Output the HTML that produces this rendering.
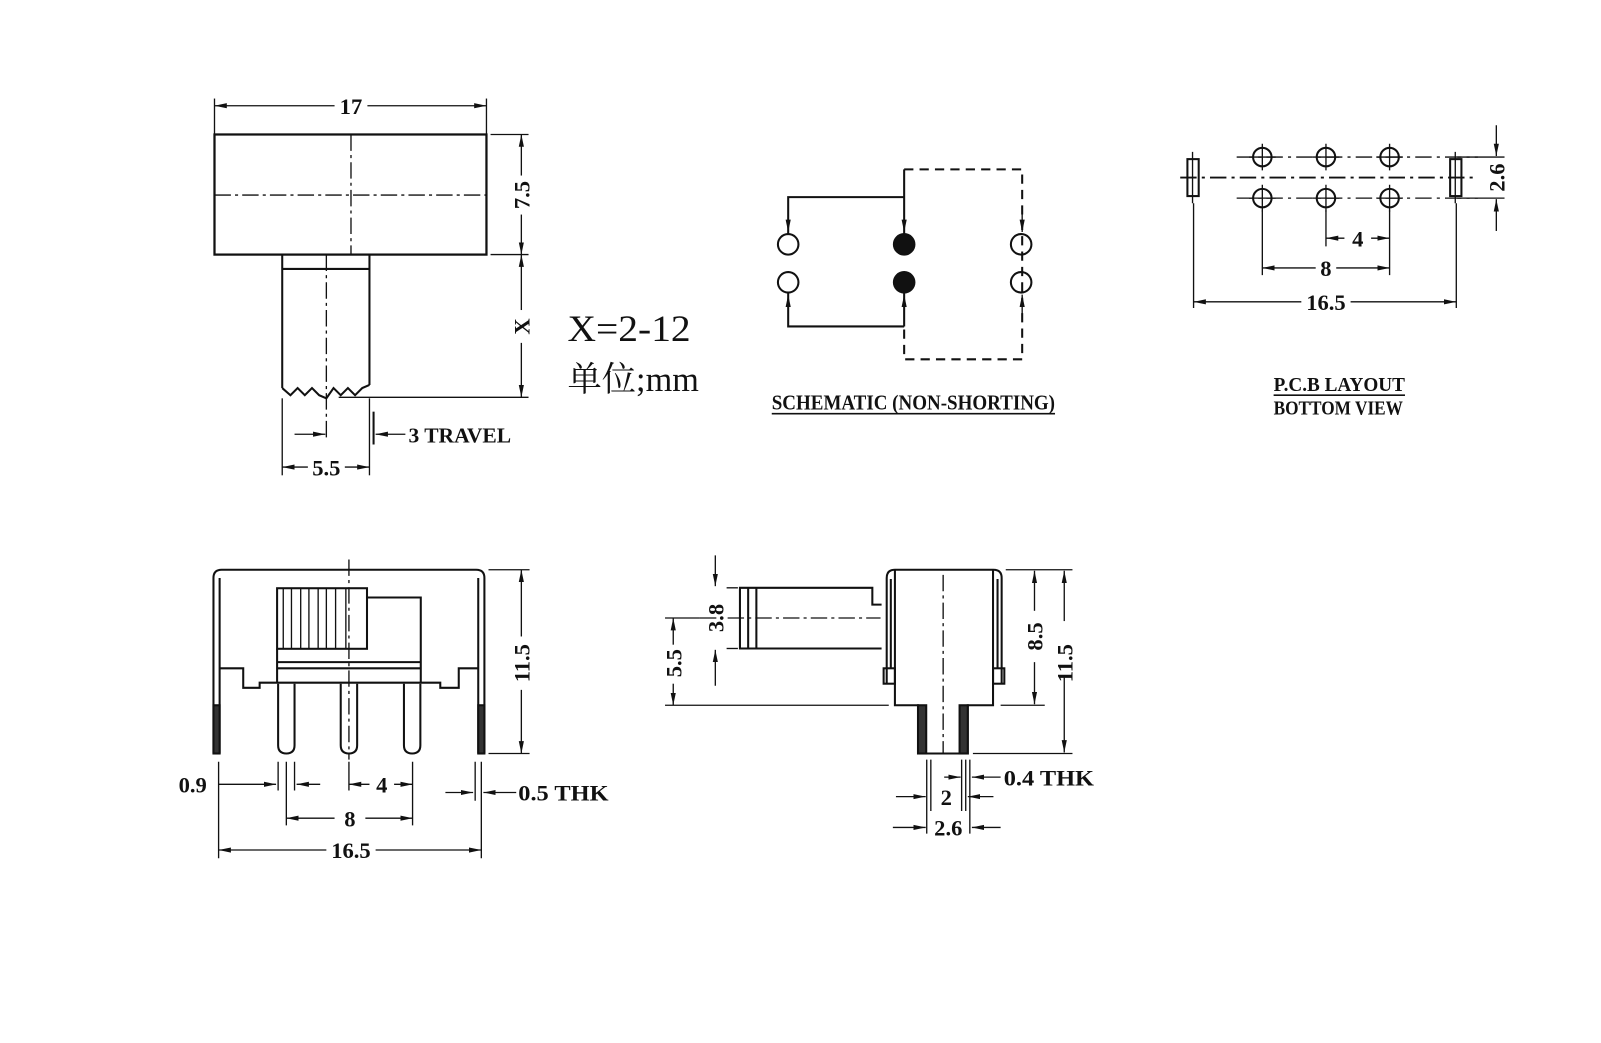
<!DOCTYPE html>
<html><head><meta charset="utf-8"><style>
html,body{margin:0;padding:0;background:#fff;}
svg{display:block}
text{font-family:"Liberation Serif","Noto Serif CJK SC",serif;font-weight:bold;fill:#111}
</style></head><body>
<svg width="1601" height="1043" viewBox="0 0 1560 1016" preserveAspectRatio="none" xmlns="http://www.w3.org/2000/svg">
<defs>
<marker id="a" viewBox="0 0 12 6" refX="12" refY="3" markerWidth="12" markerHeight="6" markerUnits="userSpaceOnUse" orient="auto-start-reverse"><path d="M0,0.5 L12,3 L0,5.5z" fill="#111"/></marker>
</defs>
<g fill="none" stroke="#111" stroke-width="1.3">
<!-- ===== TOP LEFT ===== -->
<line x1="209" y1="96" x2="209" y2="131"/><line x1="474" y1="96" x2="474" y2="131"/>
<line x1="209" y1="103" x2="326" y2="103" marker-start="url(#a)"/><line x1="358" y1="103" x2="474" y2="103" marker-end="url(#a)"/>
<rect x="209" y="131" width="265" height="117" stroke-width="2.2"/>
<line x1="342" y1="131" x2="342" y2="248" stroke-dasharray="16 4 3 4"/>
<line x1="209" y1="190" x2="474" y2="190" stroke-dasharray="16 4 3 4"/>
<line x1="478" y1="131" x2="515" y2="131"/><line x1="478" y1="248" x2="515" y2="248"/><line x1="330" y1="387" x2="515" y2="387"/>
<line x1="508" y1="171" x2="508" y2="131" marker-end="url(#a)"/><line x1="508" y1="209" x2="508" y2="248" marker-end="url(#a)"/>
<line x1="508" y1="302" x2="508" y2="248" marker-end="url(#a)"/><line x1="508" y1="334" x2="508" y2="387" marker-end="url(#a)"/>
<g stroke-width="2"><line x1="275" y1="248" x2="275" y2="378"/><line x1="360" y1="248" x2="360" y2="375"/>
<line x1="275" y1="262" x2="360" y2="262"/>
<polyline points="275,378 283,385 290,378 297,385 304,378 311,385 318,388 325,378 332,385 339,378 346,385 353,378 360,375"/></g>
<line x1="318" y1="248" x2="318" y2="428" stroke-dasharray="16 4 3 4"/>
<line x1="275" y1="388" x2="275" y2="463"/><line x1="360" y1="388" x2="360" y2="463"/>
<line x1="287" y1="423" x2="317" y2="423" marker-end="url(#a)"/>
<line x1="364" y1="401" x2="364" y2="433" stroke-width="2"/>
<line x1="395" y1="423" x2="366" y2="423" marker-end="url(#a)"/>
<line x1="300" y1="455" x2="275" y2="455" marker-end="url(#a)"/><line x1="336" y1="455" x2="360" y2="455" marker-end="url(#a)"/>
<!-- ===== SCHEMATIC ===== -->
<path d="M881,165 H996 V350 H881 V318" stroke-width="2" stroke-dasharray="9 6"/>
<path d="M768,228 V192 H881 M881,165 V228 M768,285 V318 H881 M881,285 V318" stroke-width="2"/>
<line x1="996" y1="205" x2="996" y2="226" marker-end="url(#a)"/>
<line x1="768" y1="205" x2="768" y2="226" marker-end="url(#a)"/>
<line x1="881" y1="205" x2="881" y2="226" marker-end="url(#a)"/>
<line x1="768" y1="310" x2="768" y2="287" marker-end="url(#a)"/>
<line x1="881" y1="310" x2="881" y2="287" marker-end="url(#a)"/>
<line x1="996" y1="310" x2="996" y2="287" marker-end="url(#a)"/>
<g stroke-width="2"><circle cx="768" cy="238" r="10"/><circle cx="768" cy="275" r="10"/>
<circle cx="995" cy="238" r="10"/><circle cx="995" cy="275" r="10"/>
<circle cx="881" cy="238" r="10" fill="#111"/><circle cx="881" cy="275" r="10" fill="#111"/></g>
<line x1="752" y1="403" x2="1028" y2="403" stroke-width="1.6"/>
<!-- ===== PCB ===== -->
<line x1="1150" y1="173" x2="1440" y2="173" stroke-width="1.8" stroke-dasharray="16 5 3 5"/>
<line x1="1205" y1="153" x2="1440" y2="153" stroke-dasharray="16 5 3 5"/>
<line x1="1205" y1="193" x2="1440" y2="193" stroke-dasharray="16 5 3 5"/>
<g stroke-width="2">
<circle cx="1230" cy="153" r="9"/><circle cx="1292" cy="153" r="9"/><circle cx="1354" cy="153" r="9"/>
<circle cx="1230" cy="193" r="9"/><circle cx="1292" cy="193" r="9"/><circle cx="1354" cy="193" r="9"/>
<rect x="1157" y="155" width="11" height="36"/><rect x="1413" y="155" width="11" height="36"/></g>
<path d="M1230,140V166M1292,140V166M1354,140V166M1230,180V206M1292,180V206M1354,180V206M1217,153H1243M1279,153H1305M1341,153H1367M1217,193H1243M1279,193H1305M1341,193H1367M1162,148V198M1418,148V198"/>
<line x1="1420" y1="153" x2="1466" y2="153"/><line x1="1420" y1="193" x2="1466" y2="193"/>
<line x1="1458" y1="122" x2="1458" y2="152" marker-end="url(#a)"/><line x1="1458" y1="225" x2="1458" y2="194" marker-end="url(#a)"/>
<path d="M1163,198V300M1419,198V300M1230,205V268M1292,205V240M1354,205V268"/>
<line x1="1310" y1="232" x2="1292" y2="232" marker-end="url(#a)"/><line x1="1336" y1="232" x2="1354" y2="232" marker-end="url(#a)"/>
<line x1="1282" y1="261" x2="1230" y2="261" marker-end="url(#a)"/><line x1="1302" y1="261" x2="1354" y2="261" marker-end="url(#a)"/>
<line x1="1268" y1="294" x2="1163" y2="294" marker-end="url(#a)"/><line x1="1316" y1="294" x2="1419" y2="294" marker-end="url(#a)"/>
<line x1="1241" y1="385" x2="1369" y2="385" stroke-width="1.6"/>
<!-- ===== BOTTOM LEFT ===== -->
<g stroke-width="2">
<path d="M208,734 V563 Q208,555 216,555 H464 Q472,555 472,563 V734"/>
<path d="M214,734 V563 M466,563 V734"/>
<path d="M214,651 H237 V670 H253 V665 H429 V670 H447 V651 H466"/>
<rect x="270" y="573" width="87.6" height="59"/>
<path d="M357.6,582 H410 V665 M270,632 V665 M270,645 H410 M270,651 H410"/>
<rect x="208" y="687" width="6" height="47" fill="#333"/><rect x="466" y="687" width="6" height="47" fill="#333"/>
<path d="M271,666 V726 Q271,734 279,734 Q287,734 287,726 V666"/>
<path d="M332,666 V726 Q332,734 340,734 Q348,734 348,726 V666"/>
<path d="M393.6,666 V726 Q393.6,734 401.6,734 Q409.6,734 409.6,726 V666"/>
</g>
<path d="M276,573V632M284,573V632M293,573V632M301,573V632M310,573V632M318,573V632M327,573V632M337,573V632"/>
<line x1="340" y1="545" x2="340" y2="740" stroke-dasharray="16 4 3 4"/>
<line x1="476" y1="555" x2="516" y2="555"/><line x1="476" y1="734" x2="516" y2="734"/>
<line x1="508" y1="620" x2="508" y2="555" marker-end="url(#a)"/><line x1="508" y1="672" x2="508" y2="734" marker-end="url(#a)"/>
<path d="M213,742V836M469,742V836M463,742V780M271,742V770M287,742V770M279,742V804M340,742V770M402,742V804"/>
<line x1="213" y1="764" x2="269" y2="764" marker-end="url(#a)"/><line x1="312" y1="764" x2="289" y2="764" marker-end="url(#a)"/>
<line x1="360" y1="764" x2="340" y2="764" marker-end="url(#a)"/><line x1="384" y1="764" x2="402" y2="764" marker-end="url(#a)"/>
<line x1="326" y1="797" x2="279" y2="797" marker-end="url(#a)"/><line x1="356" y1="797" x2="402" y2="797" marker-end="url(#a)"/>
<line x1="318" y1="828" x2="213" y2="828" marker-end="url(#a)"/><line x1="366" y1="828" x2="469" y2="828" marker-end="url(#a)"/>
<line x1="434" y1="772" x2="461" y2="772" marker-end="url(#a)"/><line x1="503" y1="772" x2="471" y2="772" marker-end="url(#a)"/>
<!-- ===== SIDE VIEW ===== -->
<g stroke-width="2">
<path d="M864,666 V563 Q864,555 872,555 H968 Q976,555 976,563 V666"/>
<path d="M872,555 V687 H894.5 V734 H943 V687 H967.6 V555"/>
<path d="M868,564 V651 M972,564 V651"/>
<rect x="861" y="651" width="11" height="15"/><rect x="967.6" y="651" width="11" height="15"/>
<path d="M859,631.7 H721 V572.6 H850 V589 H859"/>
<path d="M729,572.6 V631.7 M737,572.6 V631.7"/>
<rect x="894.5" y="687" width="8" height="47" fill="#333"/><rect x="935" y="687" width="8" height="47" fill="#333"/>
</g>
<line x1="919" y1="560" x2="919" y2="734" stroke-dasharray="16 4 3 4"/>
<line x1="682" y1="602" x2="858" y2="602" stroke-dasharray="16 4 3 4"/>
<line x1="708" y1="572.6" x2="719" y2="572.6"/><line x1="708" y1="631.7" x2="719" y2="631.7"/>
<line x1="697" y1="541" x2="697" y2="571" marker-end="url(#a)"/><line x1="697" y1="668" x2="697" y2="633" marker-end="url(#a)"/>
<line x1="648" y1="602" x2="682" y2="602"/>
<line x1="648" y1="687" x2="866" y2="687"/>
<line x1="656" y1="628" x2="656" y2="602" marker-end="url(#a)"/><line x1="656" y1="666" x2="656" y2="687" marker-end="url(#a)"/>
<line x1="980" y1="555" x2="1045" y2="555"/><line x1="975" y1="687" x2="1018" y2="687"/><line x1="948" y1="734" x2="1045" y2="734"/>
<line x1="1008" y1="595" x2="1008" y2="556" marker-end="url(#a)"/><line x1="1008" y1="645" x2="1008" y2="686" marker-end="url(#a)"/>
<line x1="1037" y1="605" x2="1037" y2="556" marker-end="url(#a)"/><line x1="1037" y1="660" x2="1037" y2="733" marker-end="url(#a)"/>
<path d="M903,740V812M907,740V790M937,740V790M941,740V790M945,740V812"/>
<line x1="920" y1="757" x2="936" y2="757" marker-end="url(#a)"/><line x1="975" y1="757" x2="947" y2="757" marker-end="url(#a)"/>
<line x1="873" y1="776" x2="902" y2="776" marker-end="url(#a)"/><line x1="968" y1="776" x2="943" y2="776" marker-end="url(#a)"/>
<line x1="870" y1="806" x2="902" y2="806" marker-end="url(#a)"/><line x1="975" y1="806" x2="947" y2="806" marker-end="url(#a)"/>
</g>
<!-- ===== TEXT ===== -->
<g font-size="22">
<text x="342" y="111" text-anchor="middle">17</text>
<text transform="translate(516,190) rotate(-90)" text-anchor="middle">7.5</text>
<text transform="translate(516,318) rotate(-90)" text-anchor="middle">X</text>
<text x="398" y="431" font-size="21" textLength="100" lengthAdjust="spacingAndGlyphs">3 TRAVEL</text>
<text x="318" y="463" text-anchor="middle">5.5</text>
<text x="1323" y="240" text-anchor="middle">4</text>
<text x="1292" y="269" text-anchor="middle">8</text>
<text x="1292" y="302" text-anchor="middle">16.5</text>
<text transform="translate(1466,173) rotate(-90)" text-anchor="middle">2.6</text>
<text transform="translate(516,646) rotate(-90)" text-anchor="middle">11.5</text>
<text x="174" y="772">0.9</text>
<text x="372" y="772" text-anchor="middle">4</text>
<text x="341" y="805" text-anchor="middle">8</text>
<text x="342" y="836" text-anchor="middle">16.5</text>
<text x="505" y="780" textLength="88" lengthAdjust="spacingAndGlyphs">0.5  THK</text>
<text transform="translate(705,602) rotate(-90)" text-anchor="middle">3.8</text>
<text transform="translate(664,646) rotate(-90)" text-anchor="middle">5.5</text>
<text transform="translate(1016,620) rotate(-90)" text-anchor="middle">8.5</text>
<text transform="translate(1045,646) rotate(-90)" text-anchor="middle">11.5</text>
<text x="978" y="765" textLength="88" lengthAdjust="spacingAndGlyphs">0.4  THK</text>
<text x="922" y="784" text-anchor="middle">2</text>
<text x="924" y="814" text-anchor="middle">2.6</text>
</g>
<text x="553" y="332" font-size="36" font-weight="normal" textLength="120" lengthAdjust="spacingAndGlyphs" style="font-weight:normal">X=2-12</text>
<text x="553" y="381" font-size="34" textLength="128" lengthAdjust="spacingAndGlyphs" style="font-weight:normal">单位;mm</text>
<text x="752" y="399" font-size="21" textLength="276" lengthAdjust="spacingAndGlyphs">SCHEMATIC (NON-SHORTING)</text>
<text x="1241" y="381" font-size="20" textLength="128" lengthAdjust="spacingAndGlyphs">P.C.B LAYOUT</text>
<text x="1241" y="404" font-size="20" textLength="126" lengthAdjust="spacingAndGlyphs">BOTTOM VIEW</text>
</svg>
</body></html>
